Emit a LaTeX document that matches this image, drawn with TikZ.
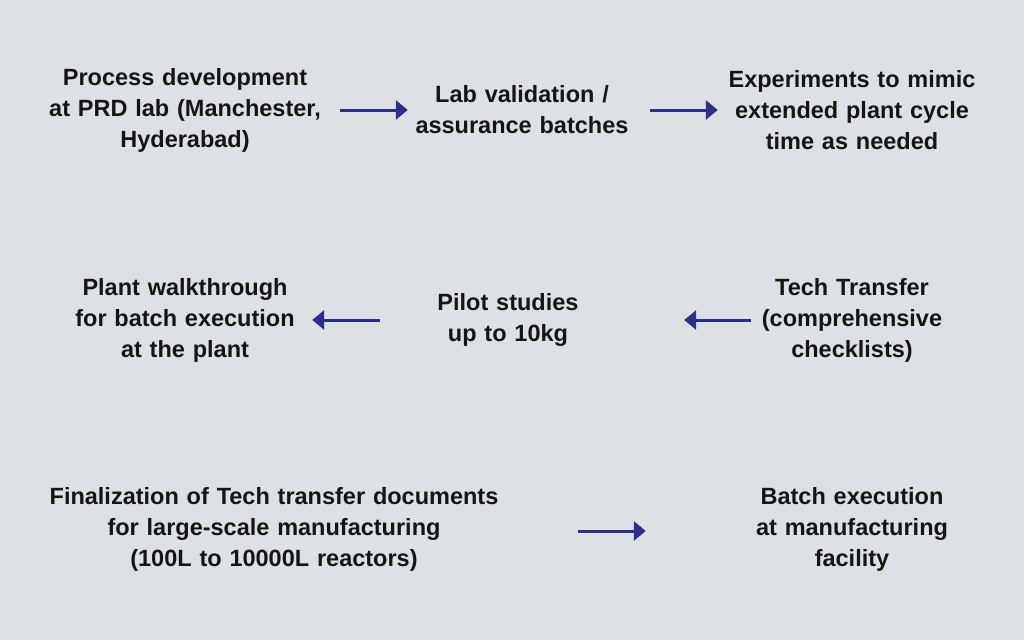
\documentclass[tikz,border=0pt]{standalone}
\usepackage{fontspec}
\setmainfont{Liberation Sans}
\usetikzlibrary{arrows.meta}
\definecolor{bgcol}{HTML}{DDE1E6}
\definecolor{arrcol}{HTML}{2B2F86}
\definecolor{txtcol}{HTML}{151515}

\begin{document}
\begin{tikzpicture}[x=1pt,y=-1pt,
    every node/.style={inner sep=0pt,align=center,text=txtcol,
      font=\bfseries\fontsize{23.5}{31}\selectfont},
    flow/.style={arrcol,line width=3pt,-{Triangle[length=12pt,width=19pt]}}]
  \fill[bgcol] (0,0) rectangle (1024,640);
  \useasboundingbox (0,0) rectangle (1024,640);

  \node[text width=290pt] (A) at (185,110) {Process development\\at PRD lab (Manchester,\\Hyderabad)};
  \node[text width=230pt] (B) at (522,110) {Lab validation /\\assurance batches};
  \node[text width=266pt] (C) at (852,110) {Experiments to mimic\\extended plant cycle\\time as needed};

  \node[text width=240pt] (D) at (185,320) {Plant walkthrough\\for batch execution\\at the plant};
  \node[text width=160pt] (E) at (508,320) {Pilot studies\\up to 10kg};
  \node[text width=200pt] (F) at (852,320) {Tech Transfer\\(comprehensive\\checklists)};

  \node[text width=470pt] (G) at (274,529) {Finalization of Tech transfer documents\\for large-scale manufacturing\\(100L to 10000L reactors)};
  \node[text width=216pt] (H) at (852,529) {Batch execution\\at manufacturing\\facility};

  \draw[flow,shorten <=10pt,shorten >=-1pt] (A) -- (B);
  \draw[flow,shorten <=13pt,shorten >=1pt] (B) -- (C);
  \draw[flow,shorten <=48pt,shorten >=7pt] (E) -- (D);
  \draw[flow,shorten <=1pt,shorten >=96pt] (F) -- (E);
  \draw[flow,shorten <=69pt,shorten >=98pt] (G.east |- 0,531) -- (H.west |- 0,531);
\end{tikzpicture}
\end{document}
